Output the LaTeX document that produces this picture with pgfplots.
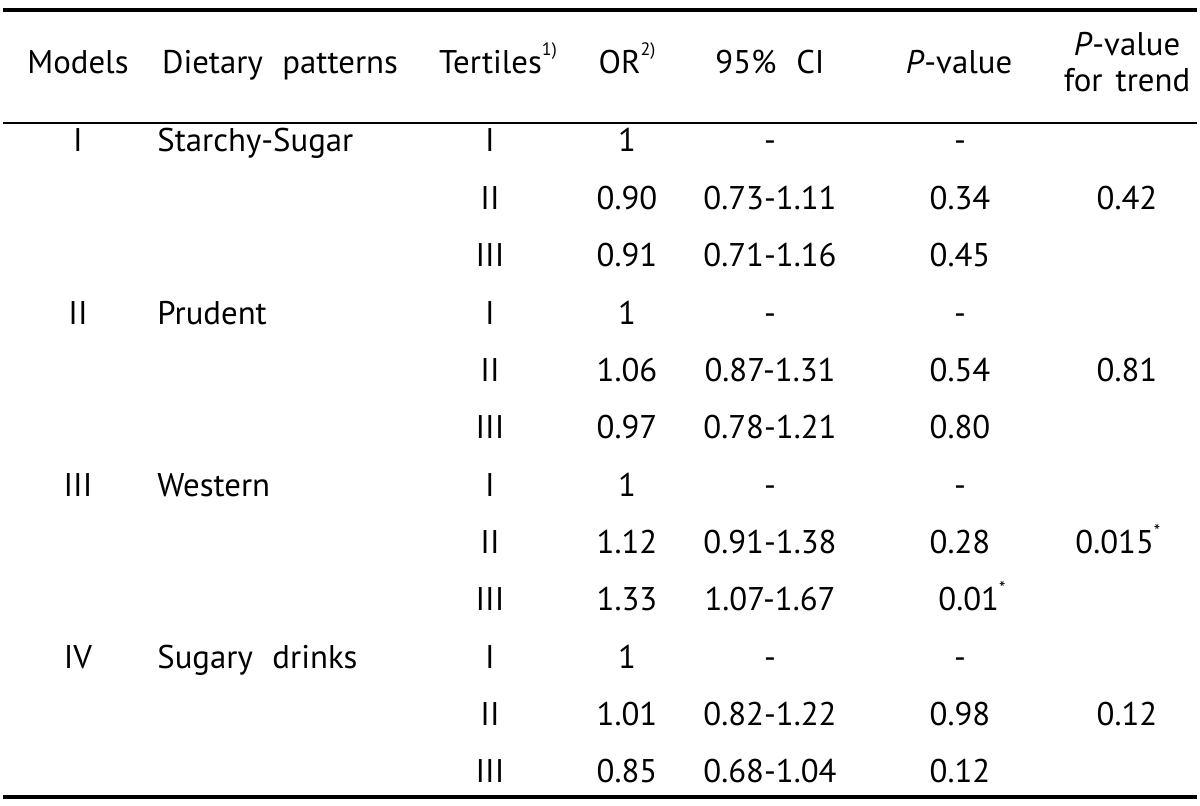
\documentclass[border=0pt]{standalone}
\usepackage{fontspec}
\setmainfont{PT Sans}
\usepackage{pgfplots}
\pgfplotsset{compat=1.18}
\newcommand\ws{\hspace{0.6em}}
\newcommand\sI{I}
\newcommand\sII{II}
\newcommand\sIII{III}
\newcommand\sIV{IV}
\newcommand\fnsup[1]{\raisebox{9pt}{\fontsize{9}{9}\selectfont #1}}
\newcommand\sigast{\raisebox{8pt}{\fontsize{9}{9}\selectfont *}}
\tikzset{cell/.style={font=\fontsize{16.4}{19}\selectfont, inner sep=0pt, anchor=base}}
\begin{document}
\fontsize{16.4}{19}\selectfont
\begin{tikzpicture}[every node/.style={cell}]
\begin{axis}[
  scale only axis, width=600pt, height=403pt,
  xmin=0,xmax=1200,ymin=0,ymax=806, y dir=reverse,
  hide axis, clip=false,
]
\path (axis cs:0,0) rectangle (axis cs:1200,806);
% rules
\draw[line width=2.2pt] (axis cs:3,10) -- (axis cs:1197,10);
\draw[line width=1pt] (axis cs:3,123) -- (axis cs:1197,123);
\draw[line width=2.2pt] (axis cs:3,797) -- (axis cs:1197,797);
% header
\node[cell] at (axis cs:78,74) {Models};
\node[cell] at (axis cs:280,74) {Dietary\ws patterns};
\node[cell] at (axis cs:498,74) {Tertiles\fnsup{1)}};
\node[cell] at (axis cs:627,74) {OR\fnsup{2)}};
\node[cell] at (axis cs:770,74) {95\%\ws CI};
\node[cell] at (axis cs:959,74) {\textit{P}-value};
\node[cell] at (axis cs:1127,56) {\textit{P}-value};
\node[cell] at (axis cs:1127,92) {for\hspace{0.4em}trend};
% model labels
\node[cell] at (axis cs:78,152.0) {\sI};
\node[cell] at (axis cs:78,324.1) {\sII};
\node[cell] at (axis cs:78,496.2) {\sIII};
\node[cell] at (axis cs:78,668.2) {\sIV};
\node[cell,anchor=base west] at (axis cs:157,152.0) {Starchy-Sugar};
\node[cell,anchor=base west] at (axis cs:157,324.1) {Prudent};
\node[cell,anchor=base west] at (axis cs:157,496.2) {Western};
\node[cell,anchor=base west] at (axis cs:157,668.2) {Sugary\ws drinks};
% Model I
\node[cell] at (axis cs:490,152.0) {\sI};   \node[cell] at (axis cs:627,152.0) {1};    \node[cell] at (axis cs:770,152.0) {-};         \node[cell] at (axis cs:960,152.0) {-};
\node[cell] at (axis cs:490,209.4) {\sII};  \node[cell] at (axis cs:627,209.4) {0.90}; \node[cell] at (axis cs:770,209.4) {0.73-1.11}; \node[cell] at (axis cs:960,209.4) {0.34}; \node[cell] at (axis cs:1127,209.4) {0.42};
\node[cell] at (axis cs:490,266.7) {\sIII}; \node[cell] at (axis cs:627,266.7) {0.91}; \node[cell] at (axis cs:770,266.7) {0.71-1.16}; \node[cell] at (axis cs:960,266.7) {0.45};
% Model II
\node[cell] at (axis cs:490,324.1) {\sI};   \node[cell] at (axis cs:627,324.1) {1};    \node[cell] at (axis cs:770,324.1) {-};         \node[cell] at (axis cs:960,324.1) {-};
\node[cell] at (axis cs:490,381.4) {\sII};  \node[cell] at (axis cs:627,381.4) {1.06}; \node[cell] at (axis cs:770,381.4) {0.87-1.31}; \node[cell] at (axis cs:960,381.4) {0.54}; \node[cell] at (axis cs:1127,381.4) {0.81};
\node[cell] at (axis cs:490,438.8) {\sIII}; \node[cell] at (axis cs:627,438.8) {0.97}; \node[cell] at (axis cs:770,438.8) {0.78-1.21}; \node[cell] at (axis cs:960,438.8) {0.80};
% Model III
\node[cell] at (axis cs:490,496.2) {\sI};   \node[cell] at (axis cs:627,496.2) {1};    \node[cell] at (axis cs:770,496.2) {-};         \node[cell] at (axis cs:960,496.2) {-};
\node[cell] at (axis cs:490,553.5) {\sII};  \node[cell] at (axis cs:627,553.5) {1.12}; \node[cell] at (axis cs:770,553.5) {0.91-1.38}; \node[cell] at (axis cs:960,553.5) {0.28}; \node[cell,anchor=base west] at (axis cs:1075,553.5) {0.015\sigast};
\node[cell] at (axis cs:490,610.9) {\sIII}; \node[cell] at (axis cs:627,610.9) {1.33}; \node[cell] at (axis cs:770,610.9) {1.07-1.67}; \node[cell,anchor=base west] at (axis cs:938,610.9) {0.01\sigast};
% Model IV
\node[cell] at (axis cs:490,668.2) {\sI};   \node[cell] at (axis cs:627,668.2) {1};    \node[cell] at (axis cs:770,668.2) {-};         \node[cell] at (axis cs:960,668.2) {-};
\node[cell] at (axis cs:490,725.6) {\sII};  \node[cell] at (axis cs:627,725.6) {1.01}; \node[cell] at (axis cs:770,725.6) {0.82-1.22}; \node[cell] at (axis cs:960,725.6) {0.98}; \node[cell] at (axis cs:1127,725.6) {0.12};
\node[cell] at (axis cs:490,783.0) {\sIII}; \node[cell] at (axis cs:627,783.0) {0.85}; \node[cell] at (axis cs:770,783.0) {0.68-1.04}; \node[cell] at (axis cs:960,783.0) {0.12};
\end{axis}
\end{tikzpicture}
\end{document}
